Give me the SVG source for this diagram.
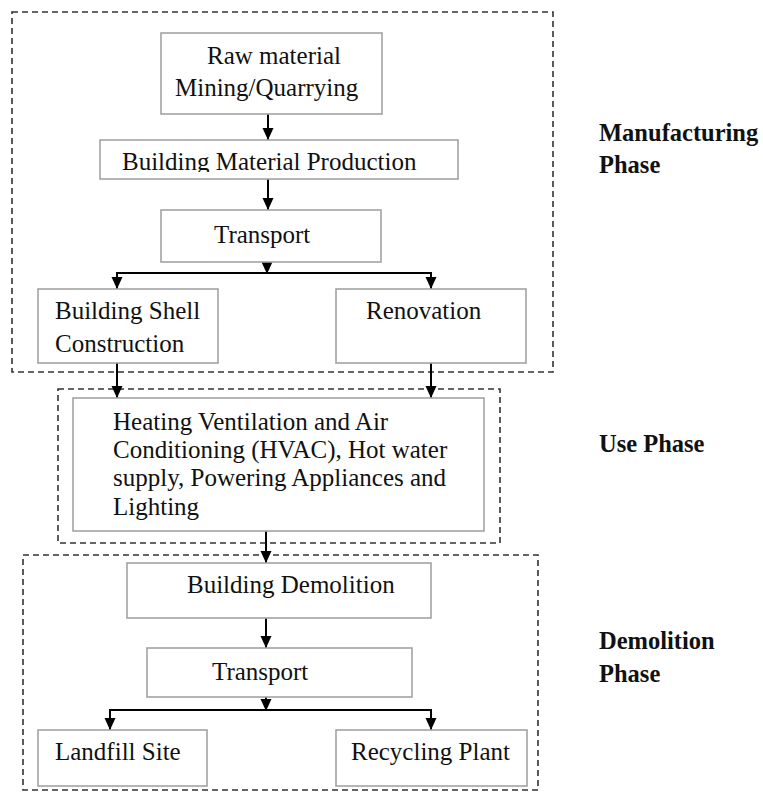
<svg xmlns="http://www.w3.org/2000/svg" width="763" height="792" viewBox="0 0 763 792">
<style>
.box{fill:#fff;stroke:#a3a3a3;stroke-width:1.6}
.dash{fill:none;stroke:#333;stroke-width:1.6;stroke-dasharray:6 4}
.t{font-family:"Liberation Serif","Times New Roman",serif;font-size:25px;fill:#111}
.lab{font-family:"Liberation Serif","Times New Roman",serif;font-size:24.5px;font-weight:bold;fill:#111}
.c{fill:none;stroke:#000;stroke-width:2}
</style>
<defs>
<marker id="ah" markerUnits="userSpaceOnUse" markerWidth="12" markerHeight="12" refX="12" refY="6" orient="auto">
<path d="M0,0.5 L12,6 L0,11.5 z" fill="#000"/>
</marker>
<clipPath id="bmpclip"><rect x="99" y="140" width="360" height="32"/></clipPath>
</defs>

<g id="phases">
<rect id="manufacturing-phase" class="dash" x="12" y="12" width="541" height="360"/>
<rect id="use-phase" class="dash" x="58" y="389" width="442" height="154"/>
<rect id="demolition-phase" class="dash" x="23" y="555" width="515" height="235"/>
</g>

<g id="connectors">
<path class="c" d="M268,114 V140" marker-end="url(#ah)"/>
<path class="c" d="M268,179 V210" marker-end="url(#ah)"/>
<path class="c" d="M267,262 V274" marker-end="url(#ah)"/>
<path class="c" d="M117,273 H431"/>
<path class="c" d="M117,272 V289" marker-end="url(#ah)"/>
<path class="c" d="M431,272 V289" marker-end="url(#ah)"/>
<path class="c" d="M117,363 V398" marker-end="url(#ah)"/>
<path class="c" d="M431,363 V398" marker-end="url(#ah)"/>
<path class="c" d="M266,531 V563" marker-end="url(#ah)"/>
<path class="c" d="M266,618 V648" marker-end="url(#ah)"/>
<path class="c" d="M266,697 V711" marker-end="url(#ah)"/>
<path class="c" d="M110,710 H431"/>
<path class="c" d="M110,709 V730" marker-end="url(#ah)"/>
<path class="c" d="M431,709 V730" marker-end="url(#ah)"/>
</g>

<g id="raw-material">
<rect class="box" x="161" y="33" width="221" height="81"/>
<text class="t" x="207" y="64">Raw material</text>
<text class="t" x="175" y="96">Mining/Quarrying</text>
</g>

<g id="building-material-production">
<rect class="box" x="100" y="140" width="358" height="39"/>
<text class="t" x="122" y="170" clip-path="url(#bmpclip)">Building Material Production</text>
</g>

<g id="transport-1">
<rect class="box" x="161" y="210" width="220" height="52"/>
<text class="t" x="214" y="243">Transport</text>
</g>

<g id="building-shell">
<rect class="box" x="38" y="289" width="180" height="74"/>
<text class="t" x="55" y="319">Building Shell</text>
<text class="t" x="55" y="352">Construction</text>
</g>

<g id="renovation">
<rect class="box" x="336" y="289" width="190" height="74"/>
<text class="t" x="366" y="319">Renovation</text>
</g>

<g id="hvac">
<rect class="box" x="73" y="398" width="411" height="133"/>
<text class="t" x="113" y="430">Heating Ventilation and Air</text>
<text class="t" x="113" y="458">Conditioning (HVAC), Hot water</text>
<text class="t" x="113" y="486">supply, Powering Appliances and</text>
<text class="t" x="113" y="515">Lighting</text>
</g>

<g id="building-demolition">
<rect class="box" x="127" y="563" width="304" height="55"/>
<text class="t" x="187" y="593">Building Demolition</text>
</g>

<g id="transport-2">
<rect class="box" x="147" y="648" width="265" height="49"/>
<text class="t" x="212" y="680">Transport</text>
</g>

<g id="landfill-site">
<rect class="box" x="38" y="730" width="169" height="56"/>
<text class="t" x="55" y="760">Landfill Site</text>
</g>

<g id="recycling-plant">
<rect class="box" x="336" y="730" width="191" height="56"/>
<text class="t" x="351" y="760">Recycling Plant</text>
</g>

<g id="labels">
<text class="lab" x="599" y="141">Manufacturing</text>
<text class="lab" x="599" y="173">Phase</text>
<text class="lab" x="599" y="452">Use Phase</text>
<text class="lab" x="599" y="649">Demolition</text>
<text class="lab" x="599" y="682">Phase</text>
</g>
</svg>
